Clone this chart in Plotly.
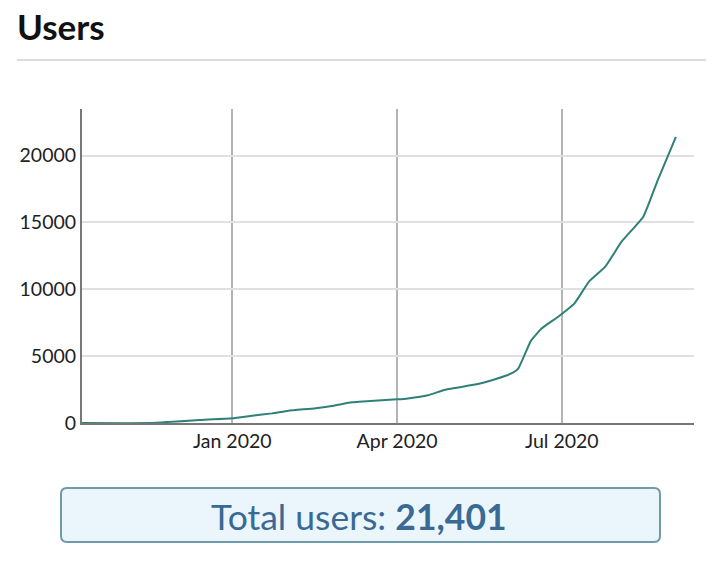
"""
users_chart.py
Cumulative users line chart with a total-users summary box
"""

import plotly.graph_objects as go


# =====================================================================
# DATA
# =====================================================================
dates = [
    "2019-10-10", "2019-11-16", "2019-12-14", "2020-01-01", "2020-01-12",
    "2020-01-23", "2020-02-01", "2020-02-16", "2020-02-25", "2020-03-07",
    "2020-03-11", "2020-04-01", "2020-04-07", "2020-04-18", "2020-04-27",
    "2020-05-04", "2020-05-15", "2020-05-26", "2020-06-04", "2020-06-07",
    "2020-06-10", "2020-06-14", "2020-06-20", "2020-06-29", "2020-07-08",
    "2020-07-16", "2020-07-25", "2020-08-03", "2020-08-15", "2020-08-23",
    "2020-09-02",
]
users = [
    0, 0, 225, 355, 550,
    720, 920, 1100, 1270, 1550,
    1580, 1770, 1840, 2070, 2470,
    2640, 2890, 3310, 3760, 4090,
    4960, 6160, 7080, 7950, 8950,
    10570, 11690, 13560, 15430, 18170,
    21401,
]

x_tick_vals = ["2020-01-01", "2020-04-01", "2020-07-01"]
x_tick_text = ["Jan 2020", "Apr 2020", "Jul 2020"]
y_tick_vals = [0, 5000, 10000, 15000, 20000]

total_users = users[-1]

FONT = "Lato"

# ----------------------------------------------------------
# SCREEN PIXEL -> PAPER HELPERS
# page body has an 8px margin, so figure coords = screen - 8
# ----------------------------------------------------------
OFF = 8
W, H = 712, 567
L, R, T, B = 82 - OFF, 694 - OFF, 109 - OFF, 423 - OFF


def px(x):
    return (x - OFF - L) / (R - L)


def py(y):
    return (B - (y - OFF)) / (B - T)


# ----------------------------------------------------------
# CREATE CHART
# ----------------------------------------------------------
fig = go.Figure()

fig.add_trace(go.Scatter(
    x=dates,
    y=users,
    mode="lines",
    line=dict(color="#2f8078", width=2, shape="spline", smoothing=0.4),
    hoverinfo="skip",
    showlegend=False,
))

# rounded summary box
bx0, bx1, by0, by1, r = 61, 660, 488, 542, 6
rx = r / (R - L)
ry = r / (B - T)
x0, x1, y0, y1 = px(bx0), px(bx1), py(by1), py(by0)
box_path = (
    f"M {x0 + rx},{y0} L {x1 - rx},{y0} Q {x1},{y0} {x1},{y0 + ry} "
    f"L {x1},{y1 - ry} Q {x1},{y1} {x1 - rx},{y1} "
    f"L {x0 + rx},{y1} Q {x0},{y1} {x0},{y1 - ry} "
    f"L {x0},{y0 + ry} Q {x0},{y0} {x0 + rx},{y0} Z"
)

tick_font = dict(family=FONT, size=19.5, color="#222222")

fig.update_layout(
    width=W,
    height=H,
    margin=dict(l=L, r=W - R, t=T, b=H - B),
    plot_bgcolor="white",
    paper_bgcolor="white",
    font=dict(family=FONT, size=19.5, color="#222222"),
    xaxis=dict(
        type="date",
        range=["2019-10-10", "2020-09-12"],
        tickvals=x_tick_vals,
        ticktext=x_tick_text,
        showgrid=True,
        gridcolor="#b4b4b4",
        gridwidth=1.5,
        showline=True,
        linecolor="#777777",
        linewidth=2,
        ticks="",
        zeroline=False,
        tickfont=tick_font,
    ),
    yaxis=dict(
        range=[0, 23480],
        tickvals=y_tick_vals,
        tickformat="d",
        showgrid=True,
        gridcolor="#e0e0e0",
        gridwidth=1.5,
        showline=True,
        linecolor="#777777",
        linewidth=2,
        ticks="",
        zeroline=False,
        tickfont=tick_font,
    ),
    shapes=[
        dict(type="line", xref="paper", yref="paper",
             x0=px(17), x1=px(706), y0=py(60), y1=py(60),
             line=dict(color="#dddddd", width=2)),
        dict(type="path", xref="paper", yref="paper", path=box_path,
             fillcolor="#eaf6fc", line=dict(color="#6f9aa8", width=2)),
    ],
    annotations=[
        dict(text="<b>Users</b>", xref="paper", yref="paper",
             x=px(15), y=py(26), xanchor="left", yanchor="middle",
             showarrow=False,
             font=dict(family=FONT, size=35, color="#111111")),
        dict(text=f"Total users: <b>{total_users:,}</b>",
             xref="paper", yref="paper",
             x=px(359), y=py(516), xanchor="center", yanchor="middle",
             showarrow=False,
             font=dict(family=FONT, size=35.5, color="#3a6a94")),
    ],
)

fig.write_html("out.html")
